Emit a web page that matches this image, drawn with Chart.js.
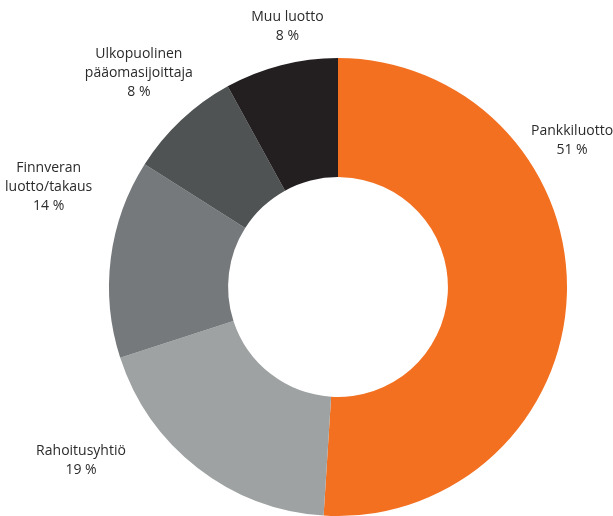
<!DOCTYPE html>
<html>
<head>
<meta charset="utf-8">
<script src="https://cdn.jsdelivr.net/npm/chart.js@4"></script>
<style>
  html, body { margin: 0; padding: 0; background: #fff; }
  #wrap { width: 613px; height: 516px; position: relative; }
</style>
</head>
<body>
<div id="wrap"><canvas id="chartRahoitus"></canvas></div>
<script>
// Rahoituslähteet - osuudet prosentteina
const categories = [
  'Pankkiluotto',
  'Rahoitusyhtiö',
  'Finnveran\nluotto/takaus',
  'Ulkopuolinen\npääomasijoittaja',
  'Muu luotto'
];
const values = [51, 19, 14, 8, 8];
const valueLabels = ['51 %', '19 %', '14 %', '8 %', '8 %'];
const colors = ['#F37021', '#9EA2A3', '#76797B', '#4F5354', '#231F20'];

// label placement: angle (deg, clockwise from top) and distance from centre
const labelPlace = [
  { angle: 58, dist: 276 },
  { angle: 236, dist: 310 },
  { angle: 289, dist: 306 },
  { angle: 317, dist: 292 },
  { angle: 349, dist: 265 }
];

const sliceLabels = {
  id: 'sliceLabels',
  afterDraw(chart) {
    const ctx = chart.ctx;
    const arc = chart.getDatasetMeta(0).data[0];
    const cx = arc.x, cy = arc.y;
    ctx.save();
    ctx.font = '14px "Open Sans", sans-serif';
    ctx.fillStyle = '#2b2b2b';
    ctx.textAlign = 'center';
    ctx.textBaseline = 'middle';
    const lh = 19;
    categories.forEach((c, i) => {
      const p = labelPlace[i];
      const a = p.angle * Math.PI / 180;
      const x = cx + Math.sin(a) * p.dist;
      const y = cy - Math.cos(a) * p.dist;
      const lines = c.split('\n').concat([valueLabels[i]]);
      const y0 = y - (lines.length - 1) * lh / 2;
      lines.forEach((t, j) => ctx.fillText(t, x, y0 + j * lh));
    });
    ctx.restore();
  }
};

new Chart(document.getElementById('chartRahoitus').getContext('2d'), {
  type: 'doughnut',
  data: {
    labels: categories,
    datasets: [{
      data: values,
      backgroundColor: colors,
      borderWidth: 0
    }]
  },
  options: {
    responsive: true,
    maintainAspectRatio: false,
    animation: false,
    cutout: '48%',
    layout: { padding: { left: 109, right: 46, top: 58, bottom: 0 } },
    plugins: {
      legend: { display: false },
      tooltip: { enabled: false }
    }
  },
  plugins: [sliceLabels]
});
</script>
</body>
</html>
